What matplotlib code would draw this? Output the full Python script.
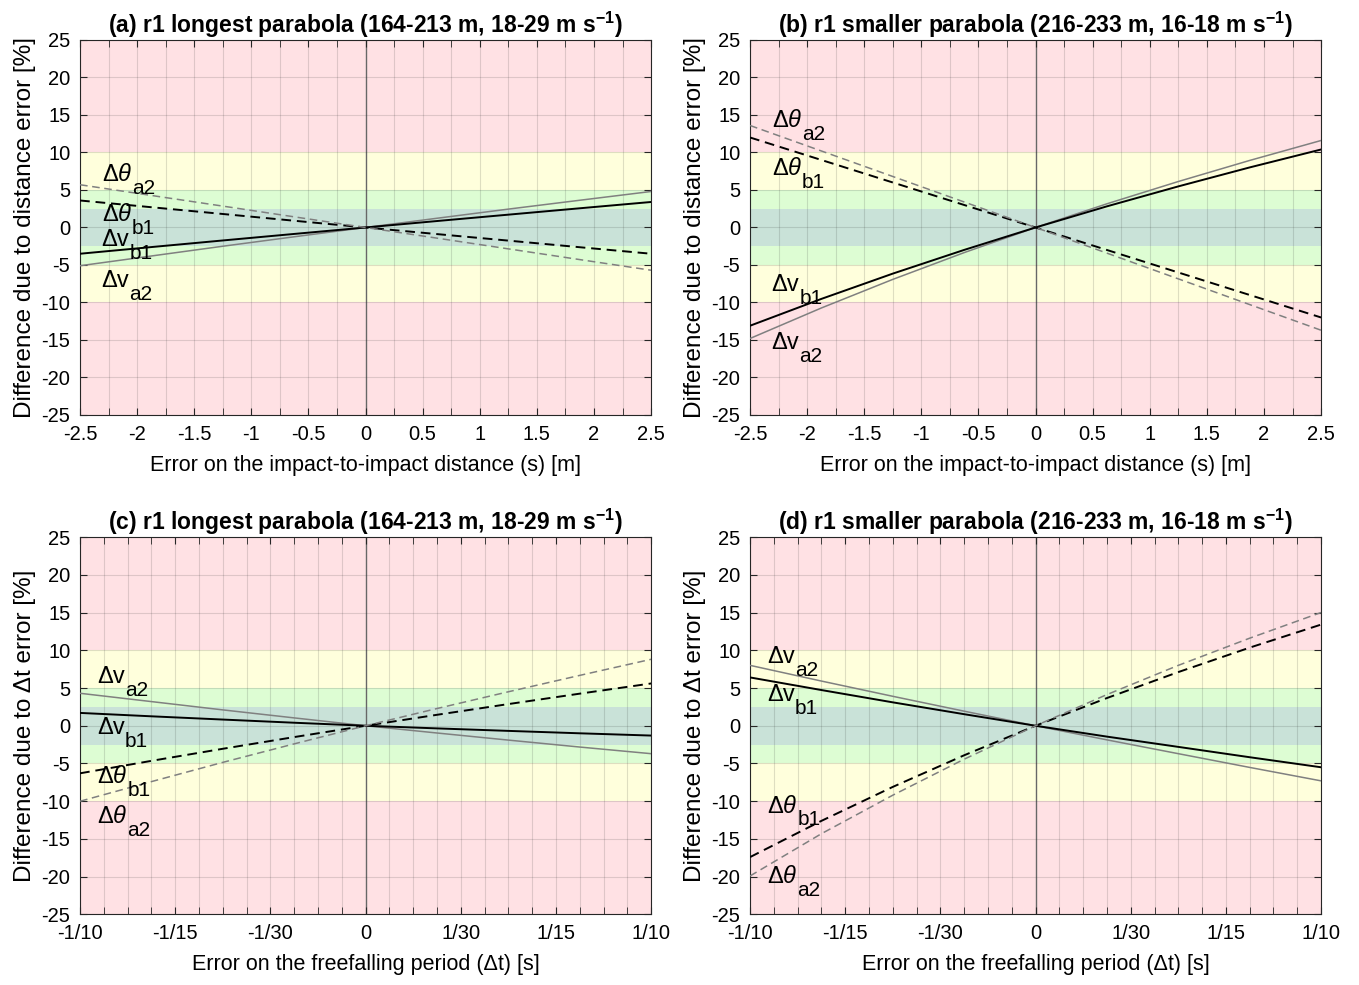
import numpy as np
import matplotlib
matplotlib.use('Agg')
import matplotlib.pyplot as plt
from matplotlib.ticker import FixedLocator, MultipleLocator

plt.rcParams['font.family'] = ['Liberation Sans', 'DejaVu Sans']
plt.rcParams['mathtext.fontset'] = 'custom'
plt.rcParams['mathtext.rm'] = 'Liberation Sans'
plt.rcParams['mathtext.it'] = 'Liberation Sans:italic'
plt.rcParams['mathtext.bf'] = 'Liberation Sans:bold'

# x values (errors)
x_dist = [-2.5, -1.875, -1.25, -0.625, 0, 0.625, 1.25, 1.875, 2.5]
x_dt = [-0.1, -0.075, -0.05, -0.025, 0, 0.025, 0.05, 0.075, 0.1]

# panel a
a_vb1 = [-3.5, -2.61, -1.73, -0.86, 0, 0.86, 1.71, 2.56, 3.4]
a_va2 = [-5.1, -3.8, -2.5, -1.24, 0, 1.23, 2.45, 3.63, 4.8]
a_tb1 = [3.6, 2.7, 1.8, 0.9, 0, -0.88, -1.75, -2.63, -3.5]
a_ta2 = [5.7, 4.27, 2.85, 1.42, 0, -1.42, -2.85, -4.28, -5.7]
# panel b
b_vb1 = [-13.1, -9.52, -6.15, -2.99, 0, 2.82, 5.48, 8.01, 10.4]
b_va2 = [-14.8, -10.73, -6.92, -3.35, 0, 3.16, 6.13, 8.94, 11.6]
b_tb1 = [12.0, 9.0, 6.0, 3.0, 0, -3.0, -6.0, -9.0, -12.0]
b_ta2 = [13.6, 10.2, 6.8, 3.4, 0, -3.42, -6.85, -10.28, -13.7]
# panel c
c_va2 = [4.3, 3.2, 2.1, 1.04, 0, -0.96, -1.9, -2.82, -3.7]
c_vb1 = [1.7, 1.25, 0.82, 0.4, 0, -0.35, -0.68, -1.0, -1.3]
c_tb1 = [-6.3, -4.65, -3.05, -1.5, 0, 1.45, 2.87, 4.25, 5.6]
c_ta2 = [-10.0, -7.4, -4.85, -2.4, 0, 2.28, 4.5, 6.67, 8.8]
# panel d
d_va2 = [8.0, 5.92, 3.9, 1.93, 0, -1.87, -3.7, -5.52, -7.3]
d_vb1 = [6.4, 4.73, 3.1, 1.53, 0, -1.44, -2.8, -4.17, -5.5]
d_tb1 = [-17.4, -12.6, -8.1, -3.91, 0, 3.67, 7.11, 10.35, 13.4]
d_ta2 = [-19.9, -14.3, -9.2, -4.43, 0, 4.13, 8.0, 11.6, 15.0]

dist_ticks = [-2.5, -2, -1.5, -1, -0.5, 0, 0.5, 1, 1.5, 2, 2.5]
dist_ticklabels = ['-2.5', '-2', '-1.5', '-1', '-0.5', '0', '0.5', '1', '1.5', '2', '2.5']
dt_ticks = [-1/10, -1/15, -1/30, 0, 1/30, 1/15, 1/10]
dt_ticklabels = ['-1/10', '-1/15', '-1/30', '0', '1/30', '1/15', '1/10']
y_ticks = list(range(-25, 26, 5))

# label text: (main, subscript)
lbl_text = {'vb1': ('\u0394v', 'b1'), 'va2': ('\u0394v', 'a2'),
            'tb1': (r'$\Delta\theta$', 'b1'), 'ta2': (r'$\Delta\theta$', 'a2')}

# label anchors (x, y) per panel
a_lbl_pos = {'ta2': (-2.31, 7.0), 'tb1': (-2.31, 1.7), 'vb1': (-2.31, -1.7), 'va2': (-2.31, -7.2)}
b_lbl_pos = {'ta2': (-2.31, 14.2), 'tb1': (-2.31, 7.8), 'vb1': (-2.31, -7.7), 'va2': (-2.31, -15.4)}
c_lbl_pos = {'va2': (-0.094, 6.5), 'vb1': (-0.094, -0.3), 'tb1': (-0.094, -6.8), 'ta2': (-0.094, -12.1)}
d_lbl_pos = {'va2': (-0.094, 9.1), 'vb1': (-0.094, 4.1), 'tb1': (-0.094, -10.7), 'ta2': (-0.094, -20.0)}

c_pink = '#ffe1e4'
c_yellow = '#ffffdc'
c_green = '#ddfdd3'
c_teal = '#c9e2d8'


def draw_panel(ax, x, vb1, va2, tb1, ta2, lbl_pos, title, xlabel, ylabel, xticks, xticklabels, minor_step):

    xmin, xmax = x[0], x[-1]
    #background bands
    ax.axhspan(-25, 25, color=c_pink, lw=0, zorder=0)
    ax.axhspan(-10, 10, color=c_yellow, lw=0, zorder=0)
    ax.axhspan(-5, 5, color=c_green, lw=0, zorder=0)
    ax.axhspan(-2.5, 2.5, color=c_teal, lw=0, zorder=0)

    ax.axvline(0, color='0.45', lw=1.0, zorder=1.5)

    ax.plot(x, va2, color='0.5', lw=1.1, zorder=3)
    ax.plot(x, vb1, color='k', lw=1.4, zorder=3)
    ax.plot(x, tb1, color='k', lw=1.4, ls=(0, (5, 3)), zorder=3)
    ax.plot(x, ta2, color='0.5', lw=1.1, ls=(0, (5, 3)), zorder=3)

    #line labels, MATLAB-like big subscripts
    for key, (tx, ty) in lbl_pos.items():
        main, sub = lbl_text[key]
        t = ax.text(tx, ty, main, fontsize=17, ha='left', va='center', zorder=4)
        ax.annotate(sub, xy=(1.0, 0.32), xycoords=t, xytext=(0, 0), textcoords='offset points',
                    fontsize=15, ha='left', va='top', zorder=4)

    ax.set_xlim(xmin, xmax)
    ax.set_ylim(-25, 25)
    ax.xaxis.set_major_locator(FixedLocator(xticks))
    ax.set_xticklabels(xticklabels)
    ax.xaxis.set_minor_locator(MultipleLocator(minor_step))
    ax.set_yticks(y_ticks)
    ax.set_yticklabels([str(v) for v in y_ticks])

    ax.grid(True, which='both', axis='x', color='0.15', alpha=0.15, lw=0.8, zorder=1)
    ax.grid(True, which='major', axis='y', color='0.15', alpha=0.15, lw=0.8, zorder=1)
    ax.set_axisbelow(False)

    ax.tick_params(which='both', direction='in', top=True, right=True, labelsize=14.5,
                   colors='0.15', labelcolor='k', length=5, pad=7)
    ax.tick_params(which='minor', length=5)
    for sp in ax.spines.values():
        sp.set_color('0.15')
        sp.set_linewidth(0.8)

    ax.set_title(title, fontsize=16.5, fontweight='bold', pad=5)
    ax.set_xlabel(xlabel, fontsize=15.5, labelpad=8)
    ax.set_ylabel(ylabel, fontsize=17.5, labelpad=4)


fig = plt.figure(figsize=(13.59, 9.85), dpi=100)

ax_a = fig.add_axes([0.0589, 0.5787, 0.4202, 0.3807])
ax_b = fig.add_axes([0.5519, 0.5787, 0.4202, 0.3807])
ax_c = fig.add_axes([0.0589, 0.0716, 0.4202, 0.3832])
ax_d = fig.add_axes([0.5519, 0.0716, 0.4202, 0.3832])

title_long = r'r1 longest parabola (164-213 m, 18-29 m s$^{\mathbf{-1}}$)'
title_small = r'r1 smaller parabola (216-233 m, 16-18 m s$^{\mathbf{-1}}$)'
xl_dist = 'Error on the impact-to-impact distance (s) [m]'
xl_dt = 'Error on the freefalling period (\u0394t) [s]'
yl_dist = 'Difference due to distance error [%]'
yl_dt = 'Difference due to \u0394t error [%]'

draw_panel(ax_a, x_dist, a_vb1, a_va2, a_tb1, a_ta2, a_lbl_pos, '(a) ' + title_long,
           xl_dist, yl_dist, dist_ticks, dist_ticklabels, 0.25)
draw_panel(ax_b, x_dist, b_vb1, b_va2, b_tb1, b_ta2, b_lbl_pos, '(b) ' + title_small,
           xl_dist, yl_dist, dist_ticks, dist_ticklabels, 0.25)
draw_panel(ax_c, x_dt, c_vb1, c_va2, c_tb1, c_ta2, c_lbl_pos, '(c) ' + title_long,
           xl_dt, yl_dt, dt_ticks, dt_ticklabels, 1/120)
draw_panel(ax_d, x_dt, d_vb1, d_va2, d_tb1, d_ta2, d_lbl_pos, '(d) ' + title_small,
           xl_dt, yl_dt, dt_ticks, dt_ticklabels, 1/120)

plt.savefig('out.png', dpi=100)
